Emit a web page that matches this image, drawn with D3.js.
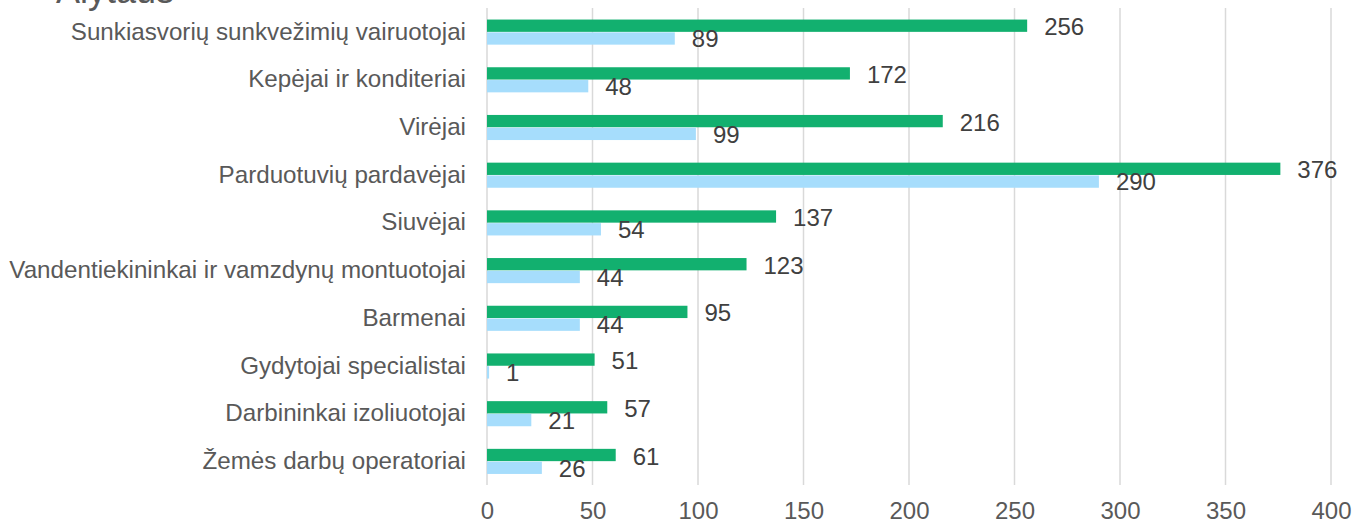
<!DOCTYPE html>
<html><head><meta charset="utf-8">
<script src="https://cdn.jsdelivr.net/npm/d3@7"></script>
<style>body{margin:0;background:#fff;}svg{display:block;font-family:"Liberation Sans",Arial,sans-serif;}</style>
</head><body><svg id="c" width="1354" height="525"></svg>
<script>
const title = "Alytaus";
const categories = ["Sunkiasvorių sunkvežimių vairuotojai","Kepėjai ir konditeriai","Virėjai","Parduotuvių pardavėjai","Siuvėjai","Vandentiekininkai ir vamzdynų montuotojai","Barmenai","Gydytojai specialistai","Darbininkai izoliuotojai","Žemės darbų operatoriai"];
const seriesGreen = [256,172,216,376,137,123,95,51,57,61];
const seriesBlue = [89,48,99,290,54,44,44,1,21,26];
const xTicks = [0,50,100,150,200,250,300,350,400];

const svg = d3.select("#c");
const x = d3.scaleLinear().domain([0,400]).range([487,1331]);
const y = d3.scaleBand().domain(categories).range([8,485]).padding(0);
const bh = 12.3;

svg.append("g").selectAll("line").data(xTicks).join("line")
  .attr("x1",d=>x(d)).attr("x2",d=>x(d)).attr("y1",8).attr("y2",485)
  .attr("stroke","#d9d9d9").attr("stroke-width",1.5);

const xa = svg.append("g").attr("transform","translate(0,485)")
  .call(d3.axisBottom(x).tickValues(xTicks).tickSize(0).tickPadding(17));
xa.select(".domain").remove();
xa.selectAll("text").attr("font-size",24).attr("fill","#595959").attr("font-family","Liberation Sans, Arial, sans-serif");

const ya = svg.append("g").attr("transform","translate(487,0)")
  .call(d3.axisLeft(y).tickSize(0).tickPadding(21));
ya.select(".domain").remove();
ya.selectAll("text").attr("font-size",24.2).attr("fill","#595959").attr("font-family","Liberation Sans, Arial, sans-serif");

const cy = c => y(c) + y.bandwidth()/2;
svg.append("g").selectAll("rect").data(categories).join("rect")
  .attr("x",x(0)).attr("y",c=>cy(c)-bh).attr("height",bh)
  .attr("width",(c,i)=>x(seriesGreen[i])-x(0)).attr("fill","#12B06F");
svg.append("g").selectAll("rect").data(categories).join("rect")
  .attr("x",x(0)).attr("y",c=>cy(c)+0.5).attr("height",bh)
  .attr("width",(c,i)=>x(seriesBlue[i])-x(0)).attr("fill","#A6DDFC");

svg.append("g").selectAll("text").data(categories).join("text")
  .attr("x",(c,i)=>x(seriesGreen[i])+17).attr("y",c=>cy(c)-5).attr("dy","0.35em")
  .attr("font-size",24).attr("fill","#404040").text((c,i)=>seriesGreen[i]);
svg.append("g").selectAll("text").data(categories).join("text")
  .attr("x",(c,i)=>x(seriesBlue[i])+17).attr("y",c=>cy(c)+7).attr("dy","0.35em")
  .attr("font-size",24).attr("fill","#404040").text((c,i)=>seriesBlue[i]);

svg.append("text").attr("x",56).attr("y",3).attr("font-size",36).attr("fill","#595959").text(title);
</script></body></html>
